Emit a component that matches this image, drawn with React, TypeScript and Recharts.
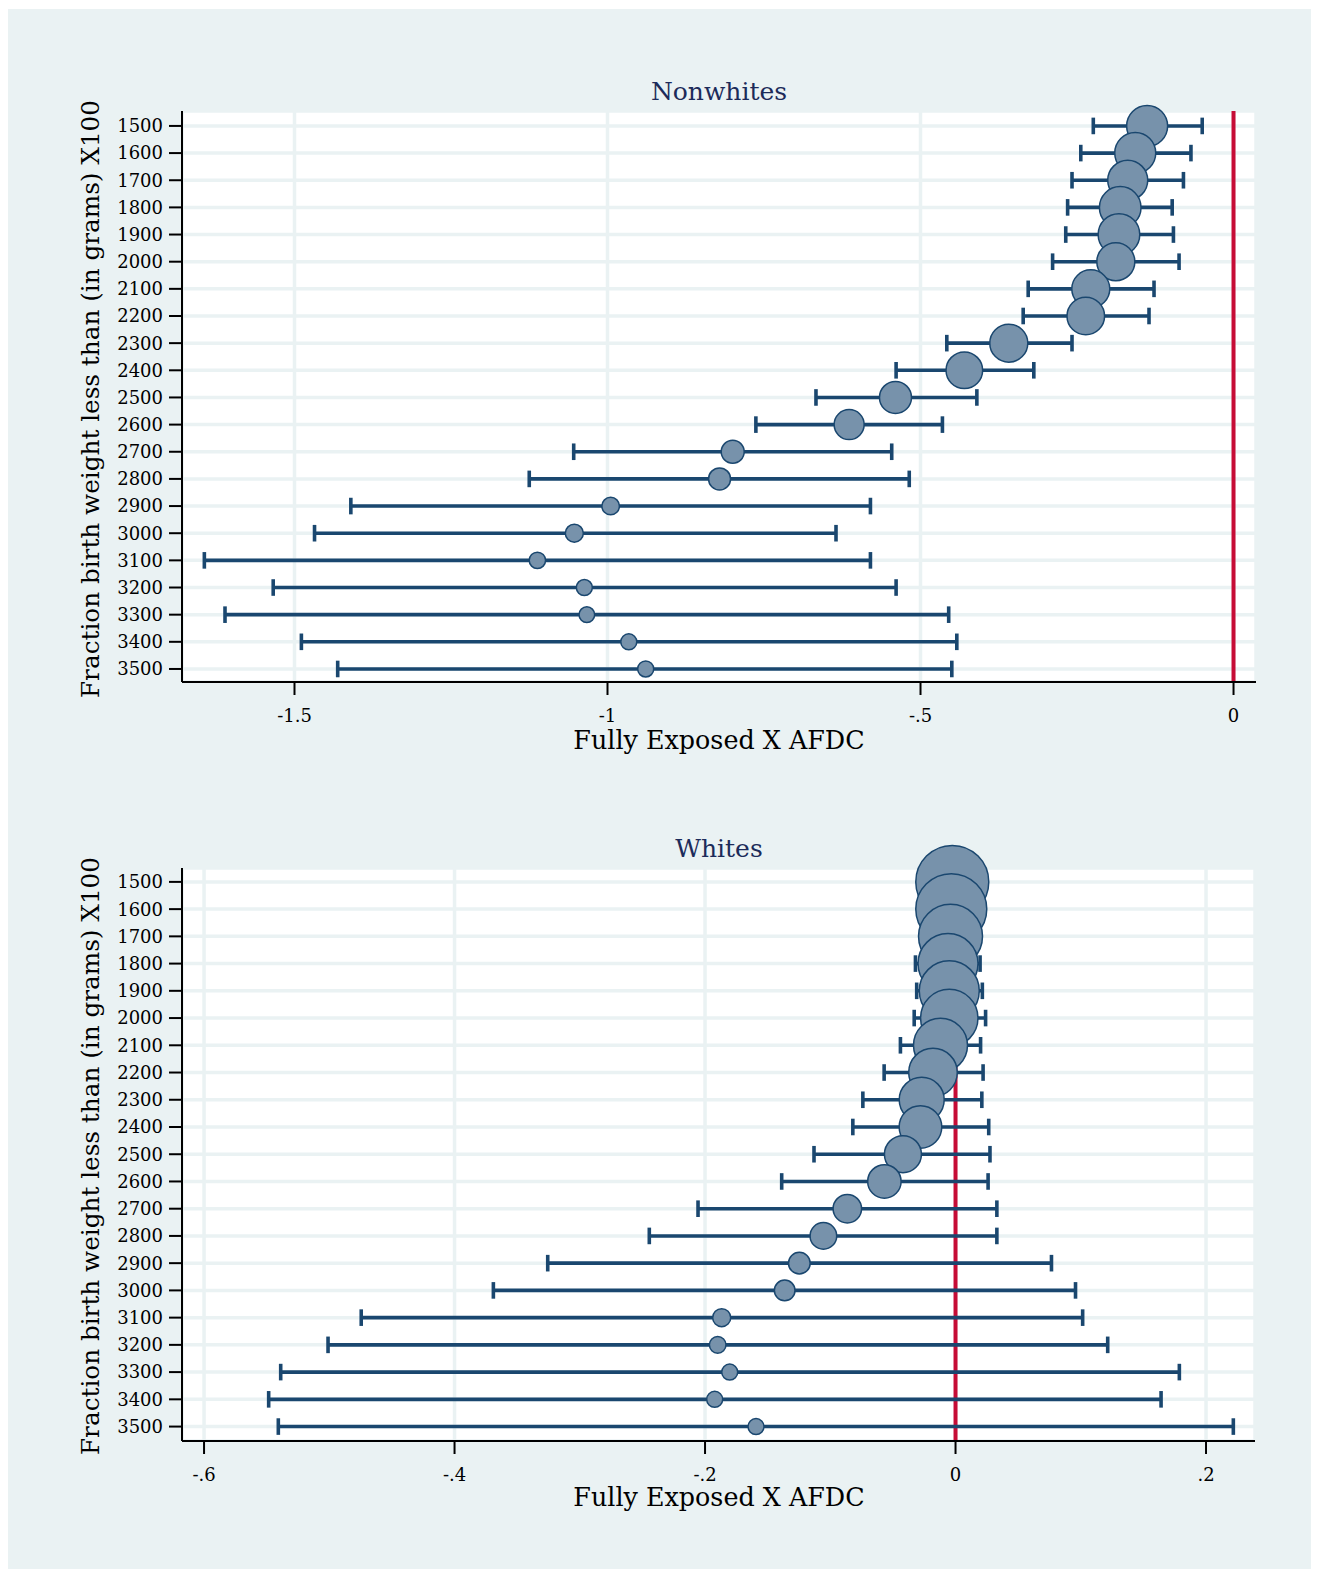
import React from 'react';
import {
  ScatterChart,
  Scatter,
  XAxis,
  YAxis,
  ZAxis,
  CartesianGrid,
  ReferenceLine,
  ErrorBar,
} from 'recharts';

// ---------- data ----------
const rows = [1500, 1600, 1700, 1800, 1900, 2000, 2100, 2200, 2300, 2400, 2500, 2600, 2700, 2800, 2900, 3000, 3100, 3200, 3300, 3400, 3500];

// Nonwhites
const nwCoef = [-0.138, -0.157, -0.169, -0.181, -0.183, -0.188, -0.228, -0.236, -0.359, -0.43, -0.54, -0.614, -0.8, -0.821, -0.995, -1.053, -1.112, -1.037, -1.033, -0.966, -0.939];
const nwLow = [-0.224, -0.244, -0.258, -0.265, -0.268, -0.289, -0.328, -0.336, -0.458, -0.539, -0.667, -0.763, -1.054, -1.125, -1.41, -1.468, -1.644, -1.534, -1.611, -1.489, -1.431];
const nwHigh = [-0.05, -0.068, -0.08, -0.098, -0.096, -0.087, -0.127, -0.135, -0.258, -0.319, -0.41, -0.465, -0.546, -0.518, -0.58, -0.635, -0.58, -0.539, -0.455, -0.442, -0.45];
const nwWeight = [420, 420, 400, 433, 433, 361, 361, 353, 361, 335, 256, 225, 132, 121, 77, 81, 67, 64, 61, 64, 64];

// Whites
const wCoef = [-0.0026, -0.0034, -0.004, -0.006, -0.005, -0.005, -0.012, -0.018, -0.027, -0.028, -0.042, -0.0568, -0.0864, -0.1055, -0.1247, -0.1364, -0.1867, -0.1899, -0.1803, -0.1923, -0.1593];
const wLow = [-0.024, -0.025, -0.027, -0.032, -0.031, -0.033, -0.044, -0.057, -0.074, -0.082, -0.113, -0.1388, -0.2056, -0.2445, -0.3256, -0.369, -0.4745, -0.501, -0.5388, -0.5484, -0.5407];
const wHigh = [0.017, 0.017, 0.018, 0.0196, 0.0214, 0.024, 0.02, 0.022, 0.021, 0.0265, 0.0275, 0.026, 0.033, 0.033, 0.0766, 0.0958, 0.1015, 0.1215, 0.1787, 0.1641, 0.2218];
const wWeight = [1332, 1260, 1024, 900, 900, 824, 729, 590, 506, 454, 342, 279, 202, 177, 117, 106, 81, 69, 64, 64, 64];

const nwTicks = [-1.5, -1, -0.5, 0];
const nwTickLabels = ['-1.5', '-1', '-.5', '0'];
const wTicks = [-0.6, -0.4, -0.2, 0, 0.2];
const wTickLabels = ['-.6', '-.4', '-.2', '0', '.2'];

const nwTitle = 'Nonwhites';
const wTitle = 'Whites';
const xTitle = 'Fully Exposed X AFDC';
const yTitle = 'Fraction birth weight less than (in grams) X100';

// ---------- styles ----------
const BG = '#eaf2f3';
const NAVY = '#1a476f';
const FILL = '#7792ab';
const RED = '#c60c36';
const FONT = '"DejaVu Serif", serif';
const W = 1305;

const build = (coef: number[], low: number[], high: number[], weight: number[]) =>
  rows.map((row, i) => ({
    row,
    v: coef[i],
    err: [coef[i] - low[i], high[i] - coef[i]],
    w: weight[i],
  }));

const nwData = build(nwCoef, nwLow, nwHigh, nwWeight);
const wData = build(wCoef, wLow, wHigh, wWeight);

type PanelProps = {
  data: any[];
  xDomain: [number, number];
  yDomain: [number, number];
  xTicks: number[];
  xLabels: string[];
  height: number;
  margin: { top: number; right: number; bottom: number; left: number };
};

function Panel({ data, xDomain, yDomain, xTicks, xLabels, height, margin }: PanelProps) {
  const tickStyle = { fill: '#000', fontSize: 18, fontFamily: FONT };
  return (
    <ScatterChart width={W} height={height} margin={margin}>
      <CartesianGrid fill="#ffffff" stroke={BG} strokeWidth={3.5} />
      <ReferenceLine x={0} stroke={RED} strokeWidth={4} />
      <XAxis
        type="number"
        dataKey="v"
        domain={xDomain}
        ticks={xTicks}
        interval={0}
        tickFormatter={(t: number) => xLabels[xTicks.indexOf(t)] ?? String(t)}
        height={60}
        axisLine={{ stroke: '#000', strokeWidth: 2 }}
        tickLine={{ stroke: '#000', strokeWidth: 2 }}
        tickSize={13}
        tickMargin={14}
        tick={tickStyle}
      />
      <YAxis
        type="number"
        dataKey="row"
        domain={yDomain}
        reversed
        ticks={rows}
        interval={0}
        width={80}
        axisLine={{ stroke: '#000', strokeWidth: 2 }}
        tickLine={{ stroke: '#000', strokeWidth: 2 }}
        tickSize={13}
        tickMargin={6}
        tick={tickStyle}
      />
      <ZAxis type="number" dataKey="w" domain={[0, 1500]} range={[0, 1500 * Math.PI]} />
      <Scatter data={data} isAnimationActive={false} shape={() => <g />}>
        <ErrorBar
          dataKey="err"
          direction="x"
          width={8.3}
          stroke={NAVY}
          strokeWidth={3.6}
          isAnimationActive={false}
        />
      </Scatter>
      <Scatter
        data={data}
        isAnimationActive={false}
        shape="circle"
        fill={FILL}
        stroke={NAVY}
        strokeWidth={1.5}
      />
    </ScatterChart>
  );
}

const centered = (left: number, top: number, extra: React.CSSProperties = {}): React.CSSProperties => ({
  position: 'absolute',
  left,
  top,
  transform: 'translate(-50%, -50%)',
  whiteSpace: 'nowrap',
  lineHeight: 1,
  fontFamily: FONT,
  ...extra,
});

export default function App() {
  return (
    <div
      style={{
        position: 'relative',
        left: -1,
        top: 1,
        width: W,
        height: 1561,
        background: BG,
        fontFamily: FONT,
      }}
    >
      <div style={{ position: 'absolute', left: 0, top: 0 }}>
        <Panel
          data={nwData}
          xDomain={[-1.6797, 0.0359]}
          yDomain={[1445, 3548]}
          xTicks={nwTicks}
          xLabels={nwTickLabels}
          height={780}
          margin={{ top: 102, right: 56, bottom: 47, left: 95 }}
        />
      </div>
      <div style={{ position: 'absolute', left: 0, top: 780 }}>
        <Panel
          data={wData}
          xDomain={[-0.6176, 0.2391]}
          yDomain={[1449, 3553]}
          xTicks={wTicks}
          xLabels={wTickLabels}
          height={781}
          margin={{ top: 79, right: 57, bottom: 69, left: 95 }}
        />
      </div>

      <div style={centered(712, 82, { fontSize: 25, color: '#1c2b5a' })}>{nwTitle}</div>
      <div style={centered(712, 839, { fontSize: 25, color: '#1c2b5a' })}>{wTitle}</div>
      <div style={centered(712, 732, { fontSize: 25.4, color: '#000' })}>{xTitle}</div>
      <div style={centered(712, 1489, { fontSize: 25.4, color: '#000' })}>{xTitle}</div>
      <div style={centered(84, 390, { fontSize: 24.7, color: '#000', transform: 'translate(-50%, -50%) rotate(-90deg)' })}>
        {yTitle}
      </div>
      <div style={centered(84, 1147, { fontSize: 24.7, color: '#000', transform: 'translate(-50%, -50%) rotate(-90deg)' })}>
        {yTitle}
      </div>
    </div>
  );
}
